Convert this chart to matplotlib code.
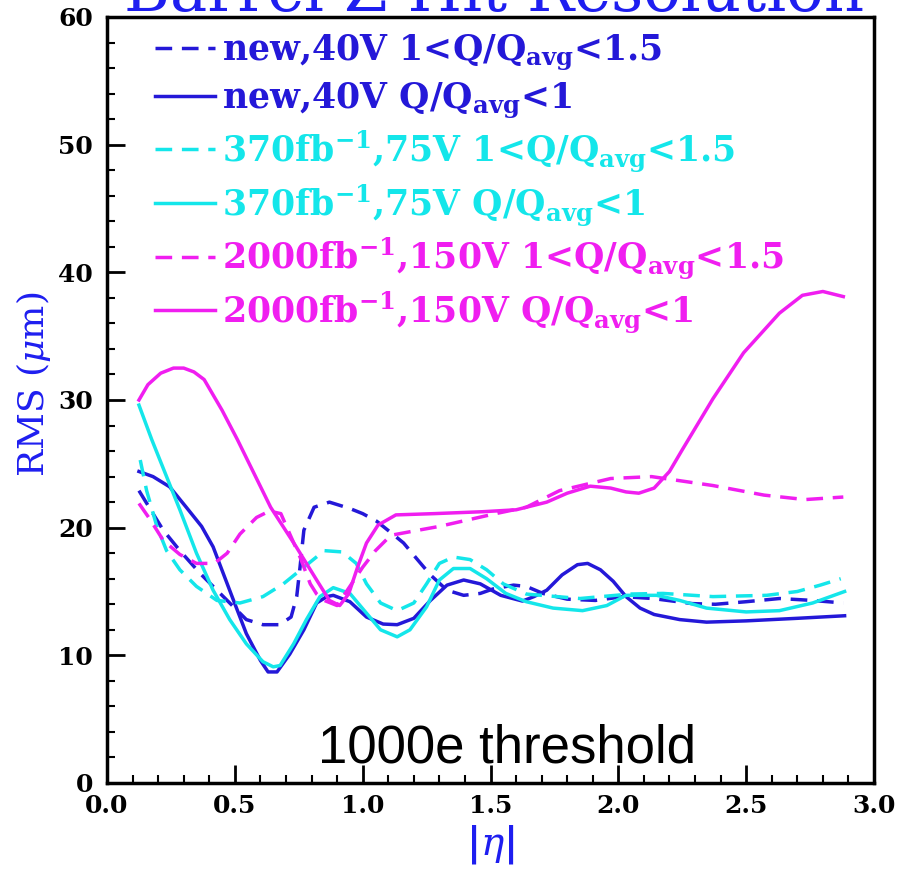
import numpy as np
import matplotlib
matplotlib.use('Agg')
from matplotlib import pyplot as plt

plt.rcParams['mathtext.fontset'] = 'custom'
plt.rcParams['mathtext.rm'] = 'DejaVu Serif:bold'
plt.rcParams['mathtext.bf'] = 'DejaVu Serif:bold'
plt.rcParams['mathtext.it'] = 'DejaVu Serif:italic'
plt.rcParams['lines.scale_dashes'] = False

# new, 40V, 1<Q/Qavg<1.5
eta_new_hi = [0.125, 0.18, 0.22, 0.285, 0.365, 0.43, 0.48, 0.545, 0.61, 0.675, 0.72, 0.742,
              0.755, 0.77, 0.81, 0.87, 0.95, 1.00, 1.055, 1.105, 1.16, 1.21, 1.265, 1.33,
              1.395, 1.46, 1.51, 1.59, 1.64, 1.705, 1.80, 1.91, 2.02, 2.135, 2.29, 2.38,
              2.50, 2.63, 2.76, 2.88]
rms_new_hi = [22.9, 21.1, 19.8, 18.2, 16.4, 15.1, 14.1, 12.8, 12.4, 12.4, 13.0, 14.6,
              16.9, 19.8, 21.6, 22.0, 21.5, 21.1, 20.5, 19.7, 18.8, 17.6, 16.3, 15.1,
              14.7, 14.85, 15.2, 15.5, 15.4, 14.85, 14.4, 14.3, 14.6, 14.45, 14.05, 14.0,
              14.2, 14.45, 14.3, 14.1]

# new, 40V, Q/Qavg<1
eta_new_lo = [0.125, 0.18, 0.245, 0.31, 0.37, 0.415, 0.455, 0.495, 0.545, 0.60, 0.63, 0.665,
              0.715, 0.77, 0.82, 0.86, 0.885, 0.95, 1.015, 1.08, 1.135, 1.20, 1.265, 1.33,
              1.395, 1.46, 1.54, 1.625, 1.67, 1.72, 1.78, 1.84, 1.88, 1.93, 1.98, 2.03,
              2.085, 2.14, 2.24, 2.345, 2.50, 2.70, 2.885]
rms_new_lo = [24.4, 24.0, 23.2, 21.6, 20.1, 18.5, 16.4, 14.3, 11.7, 9.6, 8.7, 8.7,
              10.1, 12.0, 14.1, 14.6, 14.7, 14.2, 13.0, 12.45, 12.4, 12.9, 14.3, 15.5,
              15.9, 15.6, 14.7, 14.25, 14.6, 15.1, 16.3, 17.1, 17.2, 16.7, 15.8, 14.6,
              13.7, 13.2, 12.8, 12.6, 12.7, 12.9, 13.1]

# 370fb-1, 75V, 1<Q/Qavg<1.5
eta_370_hi = [0.13, 0.155, 0.195, 0.233, 0.285, 0.35, 0.43, 0.52, 0.61, 0.69, 0.77, 0.85,
              0.92, 0.975, 1.015, 1.07, 1.135, 1.20, 1.25, 1.30, 1.355, 1.42, 1.485, 1.55,
              1.64, 1.85, 2.045, 2.175, 2.37, 2.58, 2.70, 2.79, 2.87]
rms_370_hi = [25.3, 22.9, 20.1, 18.2, 16.7, 15.4, 14.3, 14.1, 14.6, 15.6, 16.9, 18.2,
              18.1, 17.2, 15.6, 14.1, 13.5, 14.1, 15.6, 17.2, 17.7, 17.5, 16.7, 15.6,
              14.8, 14.45, 14.8, 14.85, 14.6, 14.7, 15.0, 15.5, 16.0]

# 370fb-1, 75V, Q/Qavg<1
eta_370_lo = [0.125, 0.175, 0.233, 0.285, 0.35, 0.415, 0.48, 0.545, 0.61, 0.65, 0.677, 0.73,
              0.78, 0.833, 0.885, 0.95, 1.015, 1.07, 1.135, 1.185, 1.25, 1.30, 1.355, 1.42,
              1.485, 1.56, 1.64, 1.745, 1.86, 1.955, 2.03, 2.15, 2.24, 2.345, 2.50, 2.63,
              2.76, 2.885]
rms_370_lo = [29.6, 26.9, 24.0, 21.4, 18.0, 15.1, 12.8, 10.9, 9.5, 9.1, 9.2, 10.9,
              12.8, 14.6, 15.3, 14.85, 13.3, 12.0, 11.45, 12.0, 13.8, 15.9, 16.8, 16.8,
              16.0, 14.85, 14.2, 13.7, 13.5, 13.9, 14.7, 14.7, 14.3, 13.7, 13.4, 13.5,
              14.1, 15.0]

# 2000fb-1, 150V, 1<Q/Qavg<1.5
eta_2000_hi = [0.125, 0.17, 0.22, 0.285, 0.35, 0.42, 0.47, 0.52, 0.585, 0.635, 0.68, 0.715,
               0.755, 0.795, 0.82, 0.85, 0.90, 0.95, 1.00, 1.05, 1.11, 1.19, 1.30, 1.41,
               1.52, 1.64, 1.77, 1.97, 2.13, 2.37, 2.57, 2.73, 2.88]
rms_2000_hi = [21.9, 20.6, 19.0, 17.9, 17.2, 17.2, 18.0, 19.5, 20.8, 21.3, 21.1, 19.5,
               17.7, 15.6, 14.8, 14.3, 13.9, 15.4, 16.9, 18.2, 19.4, 19.7, 20.1, 20.6,
               21.1, 21.6, 22.9, 23.85, 24.0, 23.3, 22.55, 22.2, 22.4]

# 2000fb-1, 150V, Q/Qavg<1
eta_2000_lo = [0.125, 0.16, 0.21, 0.26, 0.30, 0.34, 0.38, 0.45, 0.51, 0.64, 0.74, 0.82,
               0.87, 0.91, 0.945, 0.98, 1.015, 1.06, 1.13, 1.28, 1.47, 1.60, 1.72, 1.80,
               1.89, 1.97, 2.03, 2.08, 2.14, 2.20, 2.25, 2.37, 2.49, 2.63, 2.72, 2.80, 2.88]
rms_2000_lo = [30.0, 31.2, 32.1, 32.5, 32.5, 32.2, 31.6, 29.2, 26.9, 21.6, 18.5, 15.9,
               14.3, 13.9, 14.8, 16.9, 18.8, 20.2, 21.0, 21.1, 21.25, 21.4, 22.0, 22.7,
               23.25, 23.1, 22.8, 22.7, 23.1, 24.4, 26.1, 30.1, 33.7, 36.8, 38.2, 38.5, 38.1]

labels = [r'new,40V 1<Q/Q$_{\mathbf{avg}}$<1.5',
          r'new,40V Q/Q$_{\mathbf{avg}}$<1',
          r'370fb$^{-1}$,75V 1<Q/Q$_{\mathbf{avg}}$<1.5',
          r'370fb$^{-1}$,75V Q/Q$_{\mathbf{avg}}$<1',
          r'2000fb$^{-1}$,150V 1<Q/Q$_{\mathbf{avg}}$<1.5',
          r'2000fb$^{-1}$,150V Q/Q$_{\mathbf{avg}}$<1']

blue = '#2418d8'
cyan = '#14e6ea'
magenta = '#f01ef0'
dash = (0, (12, 7))

fig = plt.figure(figsize=(9.01, 8.75), dpi=100)
ax = fig.add_axes([107/901, 92/875, 767/901, 766/875])

ax.plot(eta_new_hi, rms_new_hi, color=blue, lw=2.5, linestyle=dash, label=labels[0])
ax.plot(eta_new_lo, rms_new_lo, color=blue, lw=2.5, label=labels[1])
ax.plot(eta_370_hi, rms_370_hi, color=cyan, lw=2.5, linestyle=dash, label=labels[2])
ax.plot(eta_370_lo, rms_370_lo, color=cyan, lw=2.5, label=labels[3])
ax.plot(eta_2000_hi, rms_2000_hi, color=magenta, lw=2.5, linestyle=dash, label=labels[4])
ax.plot(eta_2000_lo, rms_2000_lo, color=magenta, lw=2.5, label=labels[5])

ax.set_xlim(0, 3)
ax.set_ylim(0, 60)
ax.set_xticks(np.arange(0, 3.01, 0.5))
ax.set_xticks(np.arange(0, 3.01, 0.1), minor=True)
ax.set_yticks(np.arange(0, 61, 10))
ax.set_yticks(np.arange(0, 61, 2), minor=True)
ax.set_xticklabels(['0.0', '0.5', '1.0', '1.5', '2.0', '2.5', '3.0'])
ax.tick_params(which='major', direction='in', length=13, width=2, top=False, right=False,
               labelsize=18)
ax.tick_params(which='minor', direction='in', length=6, width=1.5, top=False, right=False)
ax.tick_params(axis='x', pad=8)
ax.tick_params(axis='y', pad=10)
for lab in ax.get_xticklabels() + ax.get_yticklabels():
    lab.set_fontfamily('DejaVu Serif')
    lab.set_fontweight('bold')
for s in ax.spines.values():
    s.set_linewidth(2.5)

ax.set_ylabel(r'RMS ($\mu$m)', color='#1e1ef0', fontsize=26, family='DejaVu Serif')
ax.yaxis.set_label_coords(-0.071, 0.52)
ax.set_xlabel(r'$|\eta|$', color='#1e1ef0', fontsize=28)
ax.xaxis.set_label_coords(0.5, -0.052)

leg = ax.legend(loc='upper left', bbox_to_anchor=(0.044, 0.998), frameon=False,
                prop={'family': 'DejaVu Serif', 'weight': 'bold', 'size': 25},
                labelcolor='linecolor', handlelength=1.75, handletextpad=0.2,
                labelspacing=0.23, borderaxespad=0)

ax.text(0.5215, 0.027, '1000e threshold', transform=ax.transAxes, ha='center',
        va='baseline', fontsize=38, family='Liberation Sans', color='black')

fig.text(0.548, 0.987, 'Barrel Z Hit Resolution', ha='center', va='baseline',
         fontsize=45, family='DejaVu Serif', color='#1e1ef0')

fig.savefig('out.png', dpi=100)
